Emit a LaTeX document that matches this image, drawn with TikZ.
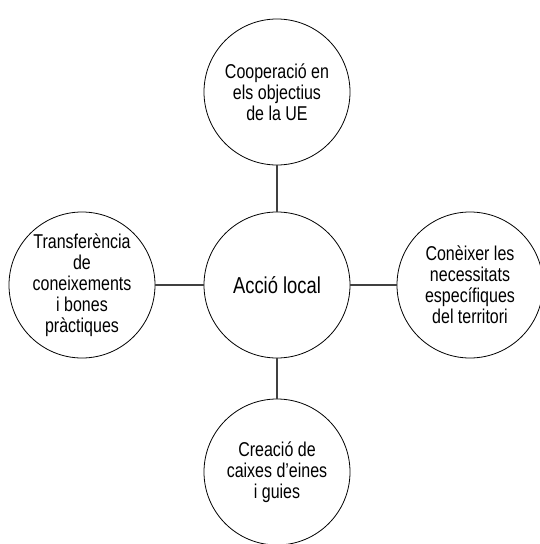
\documentclass[tikz,border=0pt]{standalone}
\usepackage{fontspec}
\setmainfont{Liberation Sans}[FakeStretch=0.8]
\begin{document}
\begin{tikzpicture}[x = 1pt, y = -1pt,
		bubble/.style = {circle, draw, line width = 0.8pt, minimum size = 146pt, inner sep = 0pt, align = center, font = \fontsize{20}{21}\selectfont},
		link/.style = {draw = black!75, line width = 1.3pt}]
		\useasboundingbox (0, 0) rectangle (540, 544);
		
		\node[bubble, font = \fontsize{23}{24}\selectfont] (local) at (277, 285) {Acció local};
		
		\node[bubble] (coop) at (277, 92) {Cooperació en\\els objectius\\de la UE};
		\node[bubble] (transf) at (82, 285) {Transferència\\de\\coneixements\\i bones\\pràctiques};
		\node[bubble] (necess) at (470, 285) {Conèixer les\\necessitats\\específiques\\del territori};
		\node[bubble] (eines) at (277, 472) {Creació de\\caixes d’eines\\i guies};
		
		\draw[link] (local) -- (coop);
		\draw[link] (local) -- (transf);
		\draw[link] (local) -- (necess);
		\draw[link] (local) -- (eines);
	\end{tikzpicture}
\end{document}
